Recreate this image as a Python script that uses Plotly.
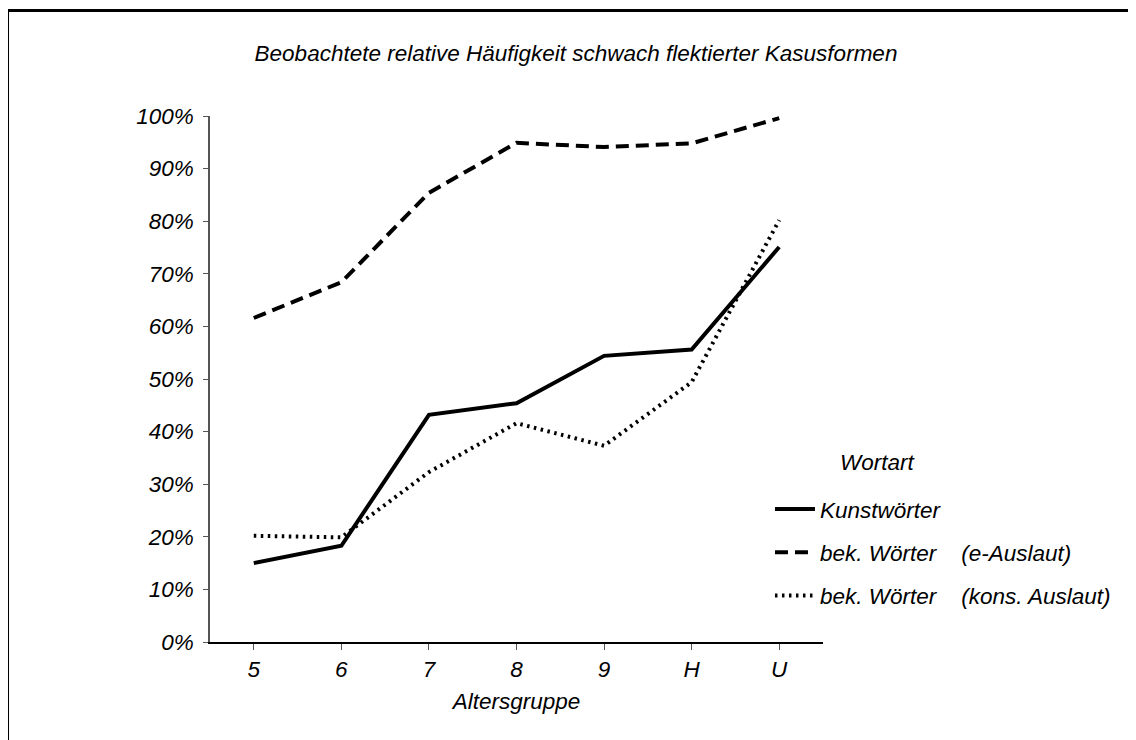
import plotly.graph_objects as go

# data
altersgruppe = ["5", "6", "7", "8", "9", "H", "U"]
kunstwoerter = [0.150, 0.183, 0.432, 0.454, 0.544, 0.556, 0.751]
bek_e_auslaut = [0.616, 0.684, 0.854, 0.949, 0.941, 0.948, 0.996]
bek_kons_auslaut = [0.202, 0.199, 0.323, 0.416, 0.373, 0.494, 0.802]

names = ["Kunstwörter",
         "bek. Wörter\u00a0\u00a0\u00a0\u00a0(e-Auslaut)",
         "bek. Wörter\u00a0\u00a0\u00a0\u00a0(kons. Auslaut)"]

FONT = "Liberation Sans, Arial, sans-serif"
FS = 22.5

fig = go.Figure()
fig.add_trace(go.Scatter(x=altersgruppe, y=kunstwoerter, mode="lines", name=names[0],
                         legendgroup="a", line=dict(color="black", width=4)))
fig.add_trace(go.Scatter(x=altersgruppe, y=bek_e_auslaut, mode="lines", name=names[1],
                         legendgroup="b", line=dict(color="black", width=4, dash="13px,7px")))
fig.add_trace(go.Scatter(x=altersgruppe, y=bek_kons_auslaut, mode="lines", name=names[2],
                         legendgroup="c", line=dict(color="black", width=4, dash="2.5px,4.5px")))

# page has an 8px body margin, so margins are 8px smaller than the picture positions
fig.update_layout(
    width=1136, height=740,
    margin=dict(l=202, r=321, t=108, b=106),
    paper_bgcolor="white", plot_bgcolor="white",
    font=dict(family=FONT, size=FS, color="black", style="italic"),
    title=dict(text="Beobachtete relative Häufigkeit schwach flektierter Kasusformen",
               x=0.5, xref="container", xanchor="center",
               y=1 - 45 / 740, yref="container", yanchor="middle",
               font=dict(family=FONT, size=FS, color="black", style="italic")),
    showlegend=True,
    legend=dict(x=0.9135, xanchor="left", y=0.293, yanchor="top", itemwidth=40,
                bgcolor="rgba(0,0,0,0)", traceorder="grouped", tracegroupgap=11,
                font=dict(family=FONT, size=FS, color="black", style="italic")),
    annotations=[dict(text="Wortart", xref="paper", yref="paper",
                      x=1.024, y=0.342, xanchor="left", yanchor="middle",
                      showarrow=False,
                      font=dict(family=FONT, size=FS, color="black", style="italic"))],
    shapes=[dict(type="rect", xref="paper", yref="paper",
                 x0=-0.3303, x1=1.65, y0=-0.25, y1=1.2006,
                 line=dict(color="black", width=3), layer="below")],
)

fig.update_xaxes(
    type="category", range=[-0.5, 6.5],
    showline=True, linecolor="black", linewidth=1.5,
    ticks="outside", ticklen=6, tickcolor="#555", tickwidth=1,
    showgrid=False, zeroline=False,
    title=dict(text="Altersgruppe", standoff=12,
               font=dict(family=FONT, size=FS, color="black", style="italic")),
    tickfont=dict(family=FONT, size=FS, color="black", style="italic"),
)
fig.update_yaxes(
    range=[0, 1], tickvals=[i / 10 for i in range(11)], tickformat=".0%",
    showline=True, linecolor="#555", linewidth=1.5,
    ticks="outside", ticklen=5, tickcolor="#555", tickwidth=1,
    ticklabelstandoff=5,
    showgrid=False, zeroline=False,
    tickfont=dict(family=FONT, size=FS, color="black", style="italic"),
)

fig.write_html("out.html")
